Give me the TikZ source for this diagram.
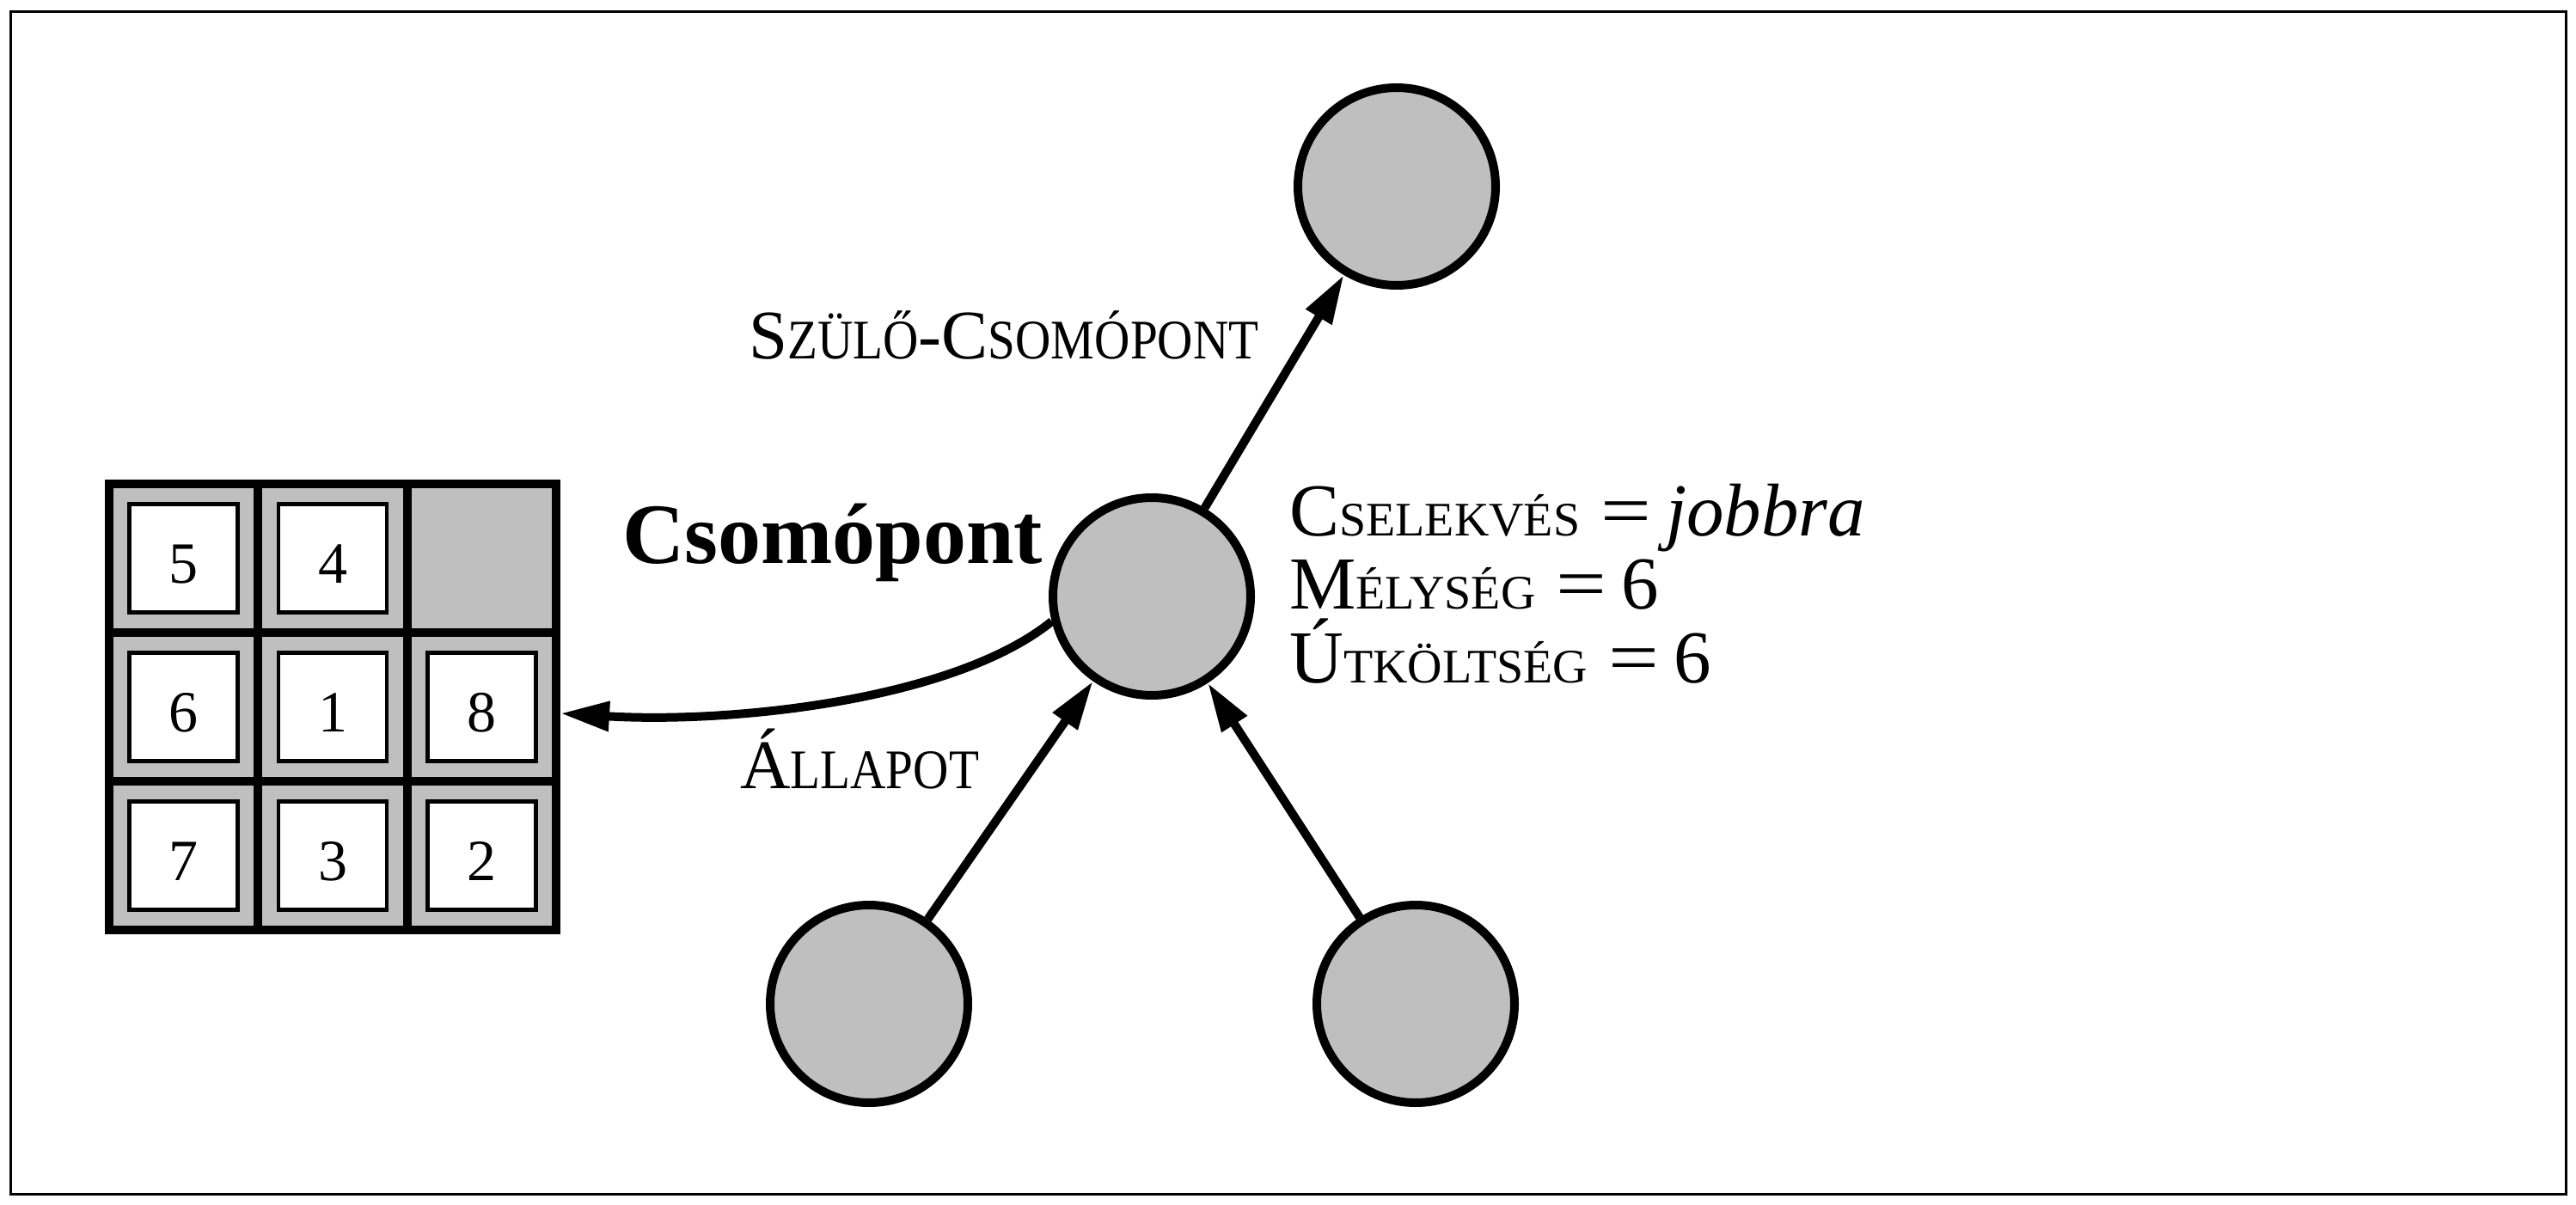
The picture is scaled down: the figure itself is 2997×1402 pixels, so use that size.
\documentclass[tikz,border=0pt]{standalone}
\usepackage{graphicx}
\usepackage{fontspec}
\setmainfont{Liberation Serif}
\newfontfamily\scf[FakeStretch=0.88]{Liberation Serif}
\usetikzlibrary{arrows.meta}
\definecolor{nodegray}{RGB}{191,191,191}
\newcommand\lblbig{\fontsize{81pt}{81pt}\selectfont}
\newcommand\lblsmall{\scf\fontsize{65pt}{65pt}\selectfont}
\newcommand\infobig{\fontsize{87pt}{87pt}\selectfont}
\newcommand\infosmall{\fontsize{56pt}{56pt}\selectfont}
\newcommand\infoeq{\hspace{24pt}\scalebox{1.2}[1]{=}\hspace{17pt}}
\begin{document}
\begin{tikzpicture}[x=1pt,y=-1pt,
  ball/.style={circle, draw, fill=nodegray, line width=10pt, minimum size=230pt, inner sep=0pt},
  arr/.style={line width=10pt, -{Triangle[length=57pt,width=33pt]}},
  tile/.style={draw, fill=white, line width=4.5pt, minimum size=126pt, inner sep=0pt,
    text height=58pt, text depth=0pt, font=\fontsize{68pt}{68pt}\selectfont},
  lbl/.style={anchor=base west, inner sep=0pt},
  divider/.style={line width=10pt},
]
\useasboundingbox (0,0) rectangle (2997,1402);
\draw[line width=3pt] (12,14) rectangle (2985.5,1389.5);

% puzzle board
\node[draw, fill=nodegray, line width=10pt, minimum width=520pt, minimum height=519pt, inner sep=0pt] (grid) at (387,822.5) {};
\draw[divider] (300,563) -- (300,1082);
\draw[divider] (474,563) -- (474,1082);
\draw[divider] (127,736) -- (647,736);
\draw[divider] (127,909) -- (647,909);
\node[tile] (t5) at (213.5,649.5) {5};
\node[tile] (t4) at (387,649.5) {4};
\node[tile] (t6) at (213.5,822.5) {6};
\node[tile] (t1) at (387,822.5) {1};
\node[tile] (t8) at (560.5,822.5) {8};
\node[tile] (t7) at (213.5,995.5) {7};
\node[tile] (t3) at (387,995.5) {3};
\node[tile] (t2) at (560.5,995.5) {2};

% tree nodes
\node[ball] (parent) at (1625,217) {};
\node[ball] (main) at (1340,694) {};
\node[ball] (childa) at (1011,1168) {};
\node[ball] (childb) at (1647,1168) {};

\draw[arr] (main) -- (parent);
\draw[arr] (childa) -- (main);
\draw[arr] (childb) -- (main);
\coordinate (gridin) at (652,830);
\draw[arr] (main.194) .. controls (1110,815) and (850,842) .. (gridin);

% labels
\node[lbl] (lparent) at (871,417) {\lblbig S{\lblsmall ZÜLŐ}-C{\lblsmall SOMÓPONT}};
\node[lbl] (lstate) at (861,917) {\lblbig Á{\lblsmall LLAPOT}};
\node[lbl] (lnode) at (724,655) {\fontsize{100pt}{100pt}\selectfont\bfseries Csomópont};
\node[lbl] (info1) at (1500,623) {\infobig C{\infosmall SELEKVÉS}\infoeq\textit{jobbra}};
\node[lbl] (info2) at (1500,708) {\infobig M{\infosmall ÉLYSÉG}\infoeq 6};
\node[lbl] (info3) at (1500,794) {\infobig Ú{\infosmall TKÖLTSÉG}\infoeq 6};
\end{tikzpicture}
\end{document}
